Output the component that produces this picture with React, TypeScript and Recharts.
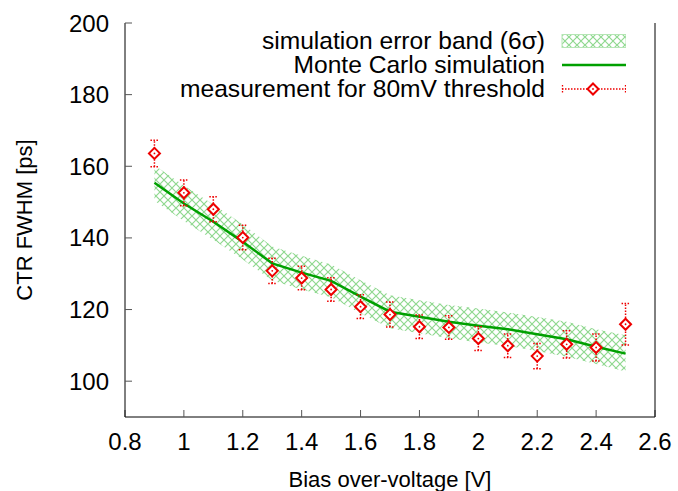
import React from 'react';
import {
  ComposedChart, Area, Line, Scatter, ErrorBar, XAxis, YAxis, Legend,
} from 'recharts';

// bias over-voltage [V]
const volts = [0.9, 1.0, 1.1, 1.2, 1.3, 1.4, 1.5, 1.6, 1.7, 1.8, 1.9, 2.0, 2.1, 2.2, 2.3, 2.4, 2.5];
// measurement for 80mV threshold [ps]
const measured = [163.6, 152.6, 148.0, 140.1, 130.8, 128.8, 125.6, 120.8, 118.6, 115.2, 115.0, 111.9, 109.9, 107.0, 110.3, 109.4, 115.9];
const measErr = [3.7, 3.6, 3.5, 3.4, 3.5, 3.3, 3.3, 3.3, 3.5, 3.3, 3.3, 3.3, 3.3, 3.5, 3.8, 3.8, 5.8];
// Monte Carlo simulation [ps]
const mcSim = [155.4, 149.6, 144.5, 138.9, 132.9, 130.3, 128.0, 123.6, 119.4, 118.0, 116.6, 115.5, 114.5, 113.1, 111.7, 109.6, 107.7];
// simulation error band (6 sigma)
const bandHigh = [160.3, 154.6, 149.3, 143.8, 137.6, 135.0, 132.6, 128.2, 124.0, 122.6, 121.3, 120.3, 119.2, 117.9, 116.6, 114.5, 112.8];
const bandLow = [150.4, 144.7, 139.5, 134.0, 128.1, 125.6, 123.4, 119.0, 114.8, 113.4, 112.0, 110.8, 109.8, 108.4, 106.8, 104.8, 102.7];

const xTicks = [0.8, 1, 1.2, 1.4, 1.6, 1.8, 2, 2.2, 2.4, 2.6];
const yTicks = [100, 120, 140, 160, 180, 200];

const data = volts.map((v, i) => ({
  v,
  meas: measured[i],
  err: measErr[i],
  mc: mcSim[i],
  band: [bandLow[i], bandHigh[i]],
}));

const FONT = '"Liberation Sans", Arial, sans-serif';
const RED = '#ee0000';
const GREEN = '#00a000';
const HATCH = '#8fd88f';

const Diamond = (props: { cx?: number; cy?: number }) => {
  const { cx = 0, cy = 0 } = props;
  const s = 5.5;
  return (
    <g>
      <path d={`M${cx},${cy - s}L${cx + s},${cy}L${cx},${cy + s}L${cx - s},${cy}Z`} fill="#fff" stroke={RED} strokeWidth={2} />
      <circle cx={cx} cy={cy} r={0.9} fill={RED} />
    </g>
  );
};

const LegendBox = () => {
  const row = { display: 'flex', alignItems: 'center', justifyContent: 'flex-end', height: 24, overflow: 'visible' } as const;
  const label = { height: 22, lineHeight: '22px', whiteSpace: 'nowrap' } as const;
  return (
    <div style={{ fontFamily: FONT, fontSize: 24.6, color: '#000' }}>
      <div style={row}>
        <div style={label}>simulation error band (6σ)</div>
        <svg width={81} height={24}>
          <defs>
            <pattern id="hatchL" width={8} height={8} patternUnits="userSpaceOnUse">
              <path d="M0,0L8,8M8,0L0,8" stroke={HATCH} strokeWidth={1.2} />
            </pattern>
          </defs>
          <rect x={17} y={5.5} width={64} height={13} fill="url(#hatchL)" stroke="#b5e6b5" strokeWidth={1} />
        </svg>
      </div>
      <div style={row}>
        <div style={label}>Monte Carlo simulation</div>
        <svg width={81} height={24}>
          <line x1={17} x2={81} y1={12} y2={12} stroke={GREEN} strokeWidth={2.5} />
        </svg>
      </div>
      <div style={row}>
        <div style={label}>measurement for 80mV threshold</div>
        <svg width={81} height={24}>
          <line x1={17} x2={81} y1={12} y2={12} stroke={RED} strokeWidth={1.3} strokeDasharray="1.5 1.5" />
          <line x1={17.5} x2={17.5} y1={8} y2={16} stroke={RED} strokeWidth={1.3} strokeDasharray="1.5 1.5" />
          <line x1={80.5} x2={80.5} y1={8} y2={16} stroke={RED} strokeWidth={1.3} strokeDasharray="1.5 1.5" />
          <Diamond cx={48} cy={12} />
        </svg>
      </div>
    </div>
  );
};

const tickStyle = { fontSize: 24, fill: '#000', fontFamily: FONT };

export default function App() {
  return (
    <div style={{ position: 'absolute', left: 0, top: 0, background: '#fff' }}>
      <ComposedChart
        width={678}
        height={491}
        data={data}
        margin={{ top: 23, right: 0, bottom: 0, left: 0 }}
      >
        <defs>
          <pattern id="hatch" width={8} height={8} patternUnits="userSpaceOnUse">
            <path d="M0,0L8,8M8,0L0,8" stroke={HATCH} strokeWidth={1.2} />
          </pattern>
        </defs>
        <XAxis
          dataKey="v"
          type="number"
          domain={[0.8, 2.6]}
          ticks={xTicks}
          interval={0}
          height={74}
          tickSize={-7}
          tickMargin={23}
          tick={tickStyle}
          axisLine={{ stroke: '#000', strokeWidth: 1 }}
          tickLine={{ stroke: '#555' }}
          label={(p: any) => {
            const vb = p.viewBox || {};
            return (
              <text x={vb.x + vb.width / 2} y={487} textAnchor="middle" fontSize={22} fontFamily={FONT} fill="#000">
                Bias over-voltage [V]
              </text>
            );
          }}
        />
        <XAxis
          xAxisId="top"
          dataKey="v"
          type="number"
          orientation="top"
          domain={[0.8, 2.6]}
          ticks={xTicks}
          interval={0}
          height={0}
          tickSize={-7}
          tick={false}
          axisLine={{ stroke: '#000', strokeWidth: 1 }}
          tickLine={{ stroke: '#555' }}
        />
        <YAxis
          type="number"
          domain={[90, 200]}
          ticks={yTicks}
          interval={0}
          width={125}
          tickSize={-7}
          tickMargin={23}
          tick={tickStyle}
          axisLine={{ stroke: '#000', strokeWidth: 1 }}
          tickLine={{ stroke: '#555' }}
          label={(p: any) => {
            const vb = p.viewBox || {};
            const cx = 24;
            const cy = vb.y + vb.height / 2;
            return (
              <text x={cx} y={cy} transform={`rotate(-90 ${cx} ${cy})`} textAnchor="middle" dominantBaseline="central" fontSize={22} fontFamily={FONT} fill="#000">
                CTR FWHM [ps]
              </text>
            );
          }}
        />
        <YAxis
          yAxisId="right"
          orientation="right"
          type="number"
          domain={[90, 200]}
          ticks={yTicks}
          interval={0}
          width={23}
          tickSize={-7}
          tick={false}
          axisLine={{ stroke: '#000', strokeWidth: 1 }}
          tickLine={{ stroke: '#555' }}
        />
        <Area
          dataKey="band"
          type="linear"
          fill="url(#hatch)"
          fillOpacity={1}
          stroke="none"
          isAnimationActive={false}
          activeDot={false}
        />
        <Line
          dataKey="mc"
          type="linear"
          stroke={GREEN}
          strokeWidth={2.5}
          dot={false}
          activeDot={false}
          isAnimationActive={false}
        />
        <Scatter dataKey="meas" shape={<Diamond />} isAnimationActive={false}>
          <ErrorBar
            dataKey="err"
            direction="y"
            width={4}
            stroke={RED}
            strokeWidth={1.5}
            strokeDasharray="1.5 1.5"
            isAnimationActive={false}
          />
        </Scatter>
        <Legend
          layout="vertical"
          align="center"
          verticalAlign="middle"
          content={() => <LegendBox />}
          wrapperStyle={{ top: 29, left: 100, width: 526, height: 72 }}
        />
      </ComposedChart>
    </div>
  );
}
